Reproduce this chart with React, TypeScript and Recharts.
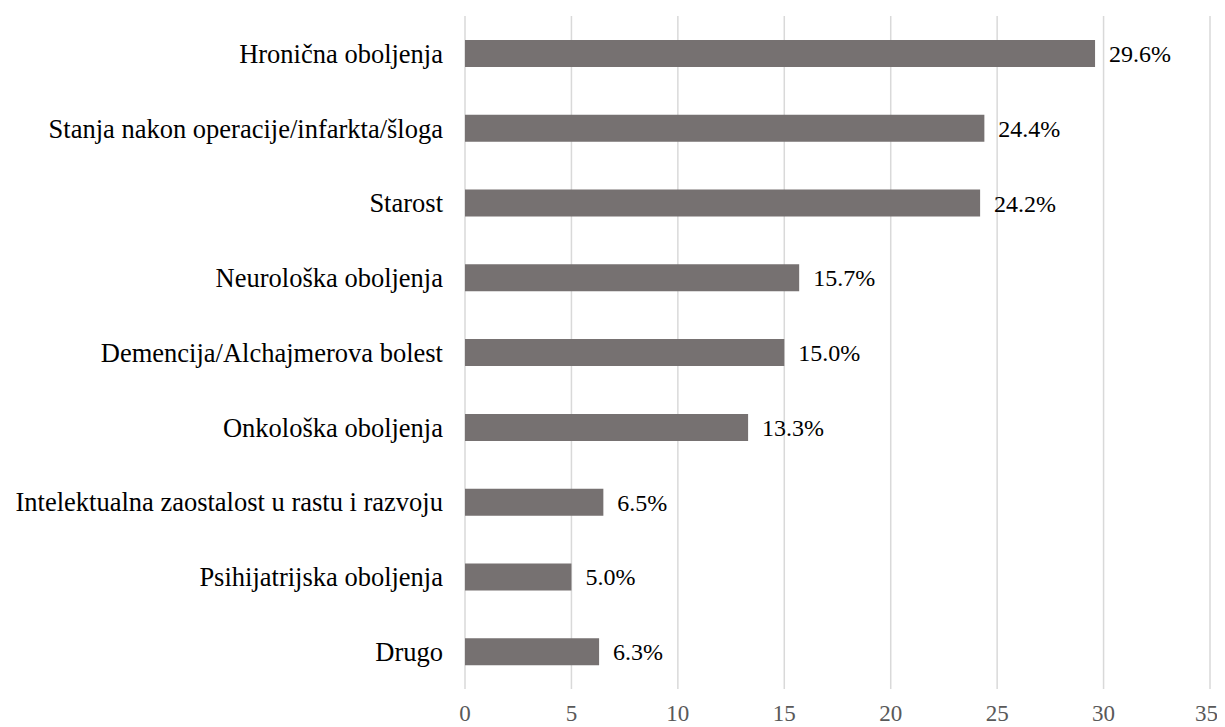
import { BarChart, Bar, XAxis, YAxis, CartesianGrid, LabelList } from "recharts";

const categories = [
  "Hronična oboljenja",
  "Stanja nakon operacije/infarkta/šloga",
  "Starost",
  "Neurološka oboljenja",
  "Demencija/Alchajmerova bolest",
  "Onkološka oboljenja",
  "Intelektualna zaostalost u rastu i razvoju",
  "Psihijatrijska oboljenja",
  "Drugo",
];

const values = [29.6, 24.4, 24.2, 15.7, 15.0, 13.3, 6.5, 5.0, 6.3];

const xTicks = [0, 5, 10, 15, 20, 25, 30, 35];

const data = categories.map((name, i) => ({ name, value: values[i] }));

const font = "'Liberation Serif', 'Times New Roman', serif";

export default function App() {
  return (
    <div style={{ width: 1210, height: 719, fontFamily: font }}>
      <BarChart
        width={1210}
        height={719}
        data={data}
        layout="vertical"
        margin={{ top: 8, right: 8, bottom: 0, left: 0 }}
        barCategoryGap={0}
      >
        <CartesianGrid horizontal={false} stroke="#d9d9d9" strokeWidth={1.5} />
        <XAxis
          type="number"
          domain={[0, 35]}
          ticks={xTicks}
          axisLine={false}
          tickLine={false}
          tickSize={0}
          tickMargin={16}
          height={38}
          tick={{ fontSize: 23, fill: "#595959", fontFamily: font }}
        />
        <YAxis
          type="category"
          dataKey="name"
          width={457}
          axisLine={false}
          tickLine={false}
          tickSize={0}
          tickMargin={22}
          interval={0}
          tick={{ fontSize: 26.5, fill: "#000000", fontFamily: font }}
        />
        <Bar dataKey="value" fill="#767171" barSize={27} isAnimationActive={false}>
          <LabelList
            dataKey="value"
            position="right"
            offset={14}
            formatter={(v: number) => `${v.toFixed(1)}%`}
            style={{ fontSize: 24, fill: "#000000", fontFamily: font }}
          />
        </Bar>
      </BarChart>
    </div>
  );
}
